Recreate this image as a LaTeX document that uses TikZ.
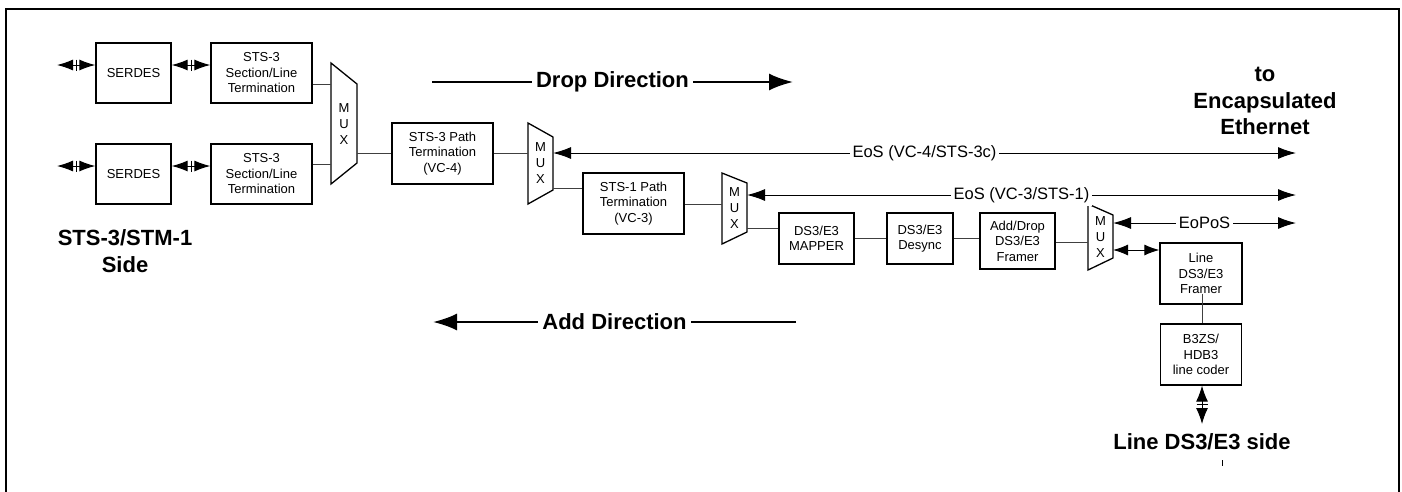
\documentclass[tikz,border=0pt]{standalone}
\usepackage{fontspec}
\setmainfont{Liberation Sans}
\usetikzlibrary{arrows.meta,calc}
\begin{document}
\begin{tikzpicture}[x=1pt,y=-1pt,
  blk/.style={draw,line width=1.3pt,align=center,inner sep=0pt,font=\fontsize{13}{15.5}\selectfont},
  muxtxt/.style={align=center,inner sep=0pt,font=\fontsize{13}{16}\selectfont},
  muxshape/.style={draw,line width=1.3pt,line join=miter},
  conn/.style={line width=1pt,draw=black!75},
  bigtip/.tip={Latex[length=18pt,width=12pt]},
  smalltip/.tip={Latex[length=16pt,width=11pt]},
  dirtip/.tip={Latex[length=24pt,width=17pt]},
  dbl/.style={line width=1pt,{smalltip}-{smalltip}},
  eos/.style={line width=1pt,{bigtip}-{bigtip}},
  eosr/.style={line width=1pt,-{bigtip}},
  dirline/.style={line width=2.2pt},
  lab/.style={fill=white,inner sep=3pt,font=\fontsize{16.5}{19}\selectfont},
  bold/.style={align=center,inner sep=2pt,font=\bfseries\fontsize{22}{26.5}\selectfont},
  marker/.style={line width=1pt}
]
\useasboundingbox (0,0) rectangle (1402,491);
% frame
\draw[line width=2pt] (6,500) -- (6,9) -- (1399,9) -- (1399,500);

% left boxes
\node[blk,minimum width=75pt,minimum height=60pt] (serdes1) at (133.5,73) {SERDES};
\node[blk,minimum width=101pt,minimum height=60pt] (sts3a) at (261.5,73) {STS-3\\Section/Line\\Termination};
\node[blk,minimum width=75pt,minimum height=60pt] (serdes2) at (133.5,174) {SERDES};
\node[blk,minimum width=101pt,minimum height=60pt] (sts3b) at (261.5,174) {STS-3\\Section/Line\\Termination};

% MUX 1
\draw[muxshape] (331,63) -- (357,84) -- (357,163) -- (331,184) -- cycle;
\node[muxtxt] (mux1) at (344,124) {M\\U\\X};
\coordinate (m1a) at (331,84);
\coordinate (m1b) at (331,164);
\coordinate (m1o) at (357,153);

% path terminations
\node[blk,minimum width=101pt,minimum height=61pt] (path4) at (442.5,153.5) {STS-3 Path\\Termination\\(VC-4)};
\draw[muxshape] (528,123) -- (553,137) -- (553,190) -- (528,204) -- cycle;
\node[muxtxt] (mux2) at (540.5,163.5) {M\\U\\X};
\coordinate (m2i) at (528,153);
\coordinate (m2e) at (553,153);
\coordinate (m2o) at (553,188);

\node[blk,minimum width=101pt,minimum height=61pt] (path3) at (633.5,203.5) {STS-1 Path\\Termination\\(VC-3)};
\draw[muxshape] (722,173) -- (747,183) -- (747,232) -- (722,244) -- cycle;
\node[muxtxt] (mux3) at (734.5,208.5) {M\\U\\X};
\coordinate (m3i) at (722,204);
\coordinate (m3e) at (747,195);
\coordinate (m3o) at (747,228);

\node[blk,minimum width=75pt,minimum height=51pt] (mapper) at (816.5,238.5) {DS3/E3\\MAPPER};
\node[blk,minimum width=66pt,minimum height=51pt] (desync) at (920,238.5) {DS3/E3\\Desync};
\node[blk,minimum width=75pt,minimum height=56pt] (adddrop) at (1017.5,241) {Add/Drop\\DS3/E3\\Framer};

\draw[muxshape] (1088,204) -- (1113,215) -- (1113,258) -- (1088,270) -- cycle;
\node[muxtxt] (mux4) at (1100.5,237) {M\\U\\X};
\coordinate (m4i) at (1088,242);
\coordinate (m4e) at (1113,223);
\coordinate (m4o) at (1113,250);

\node[blk,minimum width=82pt,minimum height=61pt] (framer) at (1201,273.5) {Line\\DS3/E3\\Framer};
\node[blk,minimum width=81pt,minimum height=61pt] (coder) at (1201,354.5) {B3ZS/\\HDB3\\line coder};

% end points
\coordinate (e1) at (1296,153);
\coordinate (e2) at (1296,195);
\coordinate (e3) at (1296,223);
\coordinate (l1) at (57,65);
\coordinate (l2) at (57,166);
\coordinate (ls) at (1202,424);

% left double arrows
\draw[dbl] (l1) -- (serdes1.west |- l1);
\draw[dbl] (serdes1.east |- l1) -- (sts3a.west |- l1);
\draw[dbl] (l2) -- (serdes2.west |- l2);
\draw[dbl] (serdes2.east |- l2) -- (sts3b.west |- l2);
\draw[marker] ($(l1)!0.5!(serdes1.west |- l1)+(0,-5.5)$) -- ++(0,11);
\draw[marker] ($(serdes1.east |- l1)!0.5!(sts3a.west |- l1)+(0,-5.5)$) -- ++(0,11);
\draw[marker] ($(l2)!0.5!(serdes2.west |- l2)+(0,-5.5)$) -- ++(0,11);
\draw[marker] ($(serdes2.east |- l2)!0.5!(sts3b.west |- l2)+(0,-5.5)$) -- ++(0,11);

% connectors
\draw[conn] (sts3a.east |- m1a) -- (m1a);
\draw[conn] (sts3b.east |- m1b) -- (m1b);
\draw[conn] (m1o) -- (path4.west |- m1o);
\draw[conn] (path4.east |- m2i) -- (m2i);
\draw[conn] (m2o) -- (path3.west |- m2o);
\draw[conn] (path3.east |- m3i) -- (m3i);
\draw[conn] (m3o) -- (mapper.west |- m3o);
\draw[conn] (mapper.east) -- (desync.west);
\draw[conn] (desync.east) -- (adddrop.west |- desync.east);
\draw[conn] (adddrop.east |- m4i) -- (m4i);
\draw[dbl,{Latex[length=15pt,width=11pt]}-{Latex[length=15pt,width=11pt]}] (m4o) -- (framer.west |- m4o);
\draw[conn] ($(framer.south)+(1,-11)$) -- (coder.north -| 1202,0);
\draw[dbl,{Latex[length=16pt,width=12pt]}-{Latex[length=16pt,width=12pt]}] (coder.south -| ls) -- (ls);
\draw[marker] ($(coder.south -| ls)!0.5!(ls)+(-5.5,0)$) -- ++(11,0);

% EoS arrows
\draw[eos] (m2e) -- (e1) node[lab,midway] {EoS (VC-4/STS-3c)};
\draw[eos] (m3e) -- (e2) node[lab,midway] {EoS (VC-3/STS-1)};
\draw[eos] (m4e) -- (e3) node[lab,midway] {EoPoS};

% direction arrows
\coordinate (dl) at (432,82);
\coordinate (dr) at (793,82);
\draw[dirline,-{dirtip}] (dl) -- (dr) node[bold,midway,fill=white,inner sep=4pt] (drop) {Drop Direction};
\coordinate (al) at (433,322);
\coordinate (ar) at (796,322);
\draw[dirline,-{dirtip}] (ar) -- (al) node[bold,midway,fill=white,inner sep=4pt] (add) {Add Direction};

% labels
\node[bold] (enc) at (1265,101) {to\\Encapsulated\\Ethernet};
\node[bold] (stsside) at (125,251) {STS-3/STM-1\\Side};
\node[bold] (lineside) at (1202,442) {Line DS3/E3 side};
\draw[line width=0.8pt] (1222,460) -- (1222,466);
\end{tikzpicture}
\end{document}
